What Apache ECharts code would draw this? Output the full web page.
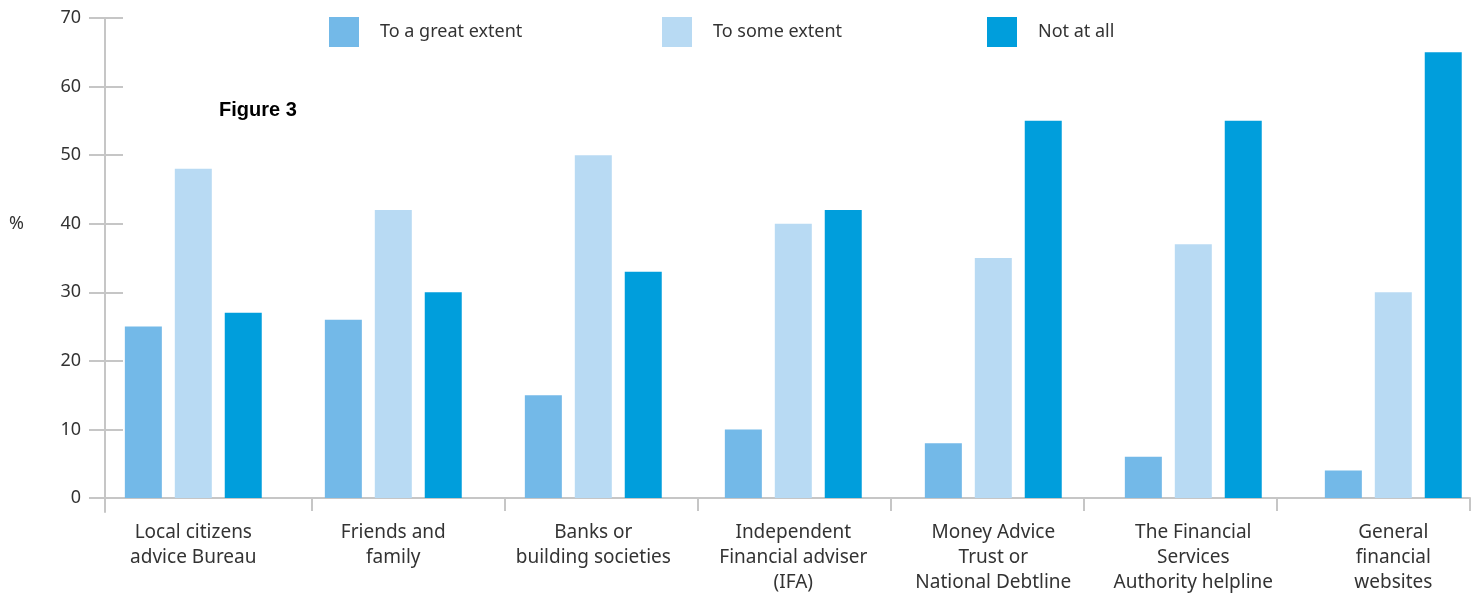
<!DOCTYPE html>
<html>
<head>
<meta charset="utf-8">
<script src="https://cdn.jsdelivr.net/npm/echarts@6/dist/echarts.min.js"></script>
<style>
html,body{margin:0;padding:0;background:#fff;}
#chart{width:1478px;height:594px;}
</style>
</head>
<body>
<div id="chart"></div>
<script>
const categories = [
  'Local citizens\nadvice Bureau',
  'Friends and\nfamily',
  'Banks or\nbuilding societies',
  'Independent\nFinancial adviser\n(IFA)',
  'Money Advice\nTrust or\nNational Debtline',
  'The Financial\nServices\nAuthority helpline',
  'General\nfinancial\nwebsites'
];
const seriesNames = ['To a great extent', 'To some extent', 'Not at all'];
const greatExtent = [25, 26, 15, 10, 8, 6, 4];
const someExtent = [48, 42, 50, 40, 35, 37, 30];
const notAtAll = [27, 30, 33, 42, 55, 55, 65];
const yTicks = { min: 0, max: 70, interval: 10 };

const colors = ['#73B9E8', '#B8DAF3', '#009EDC'];
const axisGray = '#C6C6C6';
const font = 'Noto Sans';

const chart = echarts.init(document.getElementById('chart'));
const legendBase = {
  top: 17, padding: 0, icon: 'rect', itemWidth: 30, itemHeight: 30,
  textStyle: { fontFamily: font, fontSize: 18, color: '#333', padding: [0, 0, 0, 16] },
  selectedMode: false
};
chart.setOption({
  animation: false,
  color: colors,
  title: [
    {
      text: 'Figure 3', left: 219, top: 100, padding: 0,
      textStyle: { fontFamily: 'Liberation Sans', fontWeight: 'bold', fontSize: 20, color: '#000' }
    },
    {
      text: '%', left: 9, top: 215, padding: 0,
      textStyle: { fontFamily: font, fontWeight: 'normal', fontSize: 18, color: '#333' }
    }
  ],
  legend: [
    Object.assign({}, legendBase, { left: 329, data: [seriesNames[0]] }),
    Object.assign({}, legendBase, { left: 662, data: [seriesNames[1]] }),
    Object.assign({}, legendBase, { left: 987, data: [seriesNames[2]] })
  ],
  grid: [
    { left: 93.3, width: 1400, top: 18, height: 480, outerBoundsMode: 'none', containLabel: false },
    { left: 119, width: 1351, top: 18, height: 480, outerBoundsMode: 'none', containLabel: false },
    { left: 105, width: 10, top: 498, height: 14, outerBoundsMode: 'none', containLabel: false }
  ],
  xAxis: [
    {
      gridIndex: 0, type: 'category', data: categories,
      axisLine: { show: false }, axisTick: { show: false },
      axisLabel: { interval: 0, margin: 22, fontFamily: font, fontSize: 19, lineHeight: 25, color: '#333' }
    },
    {
      gridIndex: 1, type: 'category', data: categories,
      axisLine: { show: true, lineStyle: { color: axisGray, width: 2 } },
      axisTick: { show: true, length: 13, lineStyle: { color: axisGray, width: 2 },
        interval: function (i) { return i !== 0; } },
      axisLabel: { show: false }
    },
    { gridIndex: 2, type: 'value', show: false }
  ],
  yAxis: [
    { gridIndex: 0, type: 'value', min: yTicks.min, max: yTicks.max, show: false },
    {
      gridIndex: 1, type: 'value', position: 'left', min: yTicks.min, max: yTicks.max, interval: yTicks.interval,
      offset: 14,
      axisLine: { show: true, lineStyle: { color: axisGray, width: 2 } },
      axisTick: { show: true, length: 16, lineStyle: { color: axisGray, width: 2 } },
      axisLabel: { margin: 24, fontFamily: font, fontSize: 18, color: '#333' },
      splitLine: { show: false }
    },
    {
      gridIndex: 1, type: 'value', position: 'left', min: yTicks.min, max: yTicks.max, interval: yTicks.interval,
      offset: 14,
      axisLine: { show: false },
      axisTick: { show: true, inside: true, length: 18, lineStyle: { color: axisGray, width: 2 } },
      axisLabel: { show: false },
      splitLine: { show: false }
    },
    {
      gridIndex: 2, type: 'value', position: 'left',
      axisLine: { show: true, lineStyle: { color: axisGray, width: 2 } },
      axisTick: { show: false }, axisLabel: { show: false }, splitLine: { show: false }
    }
  ],
  series: [
    { name: seriesNames[0], type: 'bar', xAxisIndex: 0, yAxisIndex: 0, data: greatExtent, barWidth: 37, barGap: '35%' },
    { name: seriesNames[1], type: 'bar', xAxisIndex: 0, yAxisIndex: 0, data: someExtent, barWidth: 37, barGap: '35%' },
    { name: seriesNames[2], type: 'bar', xAxisIndex: 0, yAxisIndex: 0, data: notAtAll, barWidth: 37, barGap: '35%' }
  ]
});
</script>
</body>
</html>
